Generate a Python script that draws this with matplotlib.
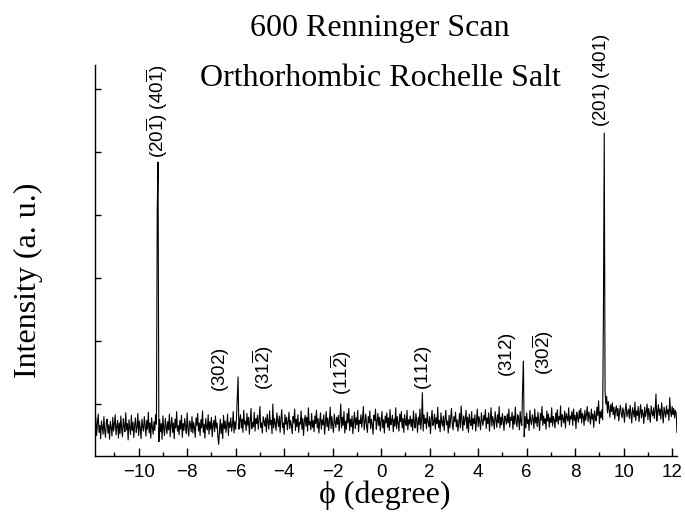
import numpy as np
import matplotlib
matplotlib.use("Agg")
import matplotlib.pyplot as plt
from matplotlib.ticker import MultipleLocator, FixedLocator, NullFormatter

# ---------------- data ----------------
phi_start = -11.80
points_per_degree = 30

intensity = [
    # -11.8
    0.60, 0.78, 0.50, 0.69, 0.84, 0.55, 0.66, 0.45, 0.73, 0.62,
    0.52, 0.80, 0.58, 0.47, 0.71, 0.76, 0.54, 0.67, 0.44, 0.72,
    0.63, 0.49, 0.79, 0.57, 0.68, 0.83, 0.51, 0.64, 0.74, 0.46,
    # -10.8
    0.70, 0.53, 0.81, 0.60, 0.48, 0.77, 0.65, 0.56, 0.86, 0.59,
    0.69, 0.43, 0.75, 0.62, 0.52, 0.82, 0.58, 0.71, 0.47, 0.66,
    0.78, 0.55, 0.63, 0.85, 0.50, 0.73, 0.61, 0.45, 0.76, 0.64,
    # -9.8
    0.57, 0.80, 0.66, 0.49, 0.74, 0.60, 0.87, 0.54, 0.70, 0.46,
    0.78, 0.63, 0.52, 0.72, 0.58, 0.83, 0.68, 4.10, 4.84, 0.40,
    0.75, 0.56, 0.69, 0.44, 0.81, 0.61, 0.50, 0.77, 0.65, 0.53,
    # -8.8
    0.72, 0.59, 0.84, 0.48, 0.67, 0.79, 0.55, 0.70, 0.45, 0.76,
    0.62, 0.88, 0.57, 0.66, 0.51, 0.74, 0.60, 0.82, 0.47, 0.69,
    0.58, 0.77, 0.64, 0.53, 0.86, 0.61, 0.49, 0.73, 0.68, 0.56,
    # -7.8
    0.80, 0.54, 0.71, 0.63, 0.47, 0.78, 0.66, 0.85, 0.57, 0.70,
    0.50, 0.75, 0.62, 0.89, 0.55, 0.68, 0.46, 0.77, 0.64, 0.59,
    0.83, 0.52, 0.72, 0.60, 0.79, 0.48, 0.67, 0.74, 0.56, 0.81,
    # -6.8
    0.62, 0.70, 0.49, 0.36, 0.58, 0.76, 0.53, 0.69, 0.45, 0.82,
    0.61, 0.73, 0.55, 0.67, 0.84, 0.50, 0.71, 0.63, 0.78, 0.57,
    0.66, 0.88, 0.54, 0.72, 0.60, 0.77, 1.10, 1.43, 0.60, 0.74,
    # -5.8
    0.83, 0.62, 0.76, 0.55, 0.90, 0.68, 0.73, 0.58, 0.85, 0.66,
    0.79, 0.52, 0.74, 0.93, 0.61, 0.71, 0.64, 0.87, 0.57, 0.77,
    0.69, 0.82, 0.60, 0.75, 0.96, 0.63, 0.70, 0.54, 0.80, 0.72,
    # -4.8
    0.65, 0.78, 0.56, 0.84, 0.71, 0.60, 0.89, 0.67, 0.74, 0.53,
    1.00, 0.62, 0.77, 0.69, 0.58, 0.86, 0.73, 0.64, 0.81, 0.55,
    0.76, 0.91, 0.63, 0.70, 0.52, 0.83, 0.68, 0.79, 0.59, 0.72,
    # -3.8
    0.87, 0.61, 0.74, 0.66, 0.53, 0.80, 0.70, 0.92, 0.58, 0.76,
    0.64, 0.83, 0.55, 0.71, 0.68, 0.89, 0.60, 0.77, 0.50, 0.73,
    0.82, 0.65, 0.79, 0.57, 0.94, 0.67, 0.72, 0.59, 0.85, 0.63,
    # -2.8
    0.74, 0.56, 0.81, 0.69, 0.90, 0.62, 0.77, 0.54, 0.72, 0.86,
    0.60, 0.75, 0.67, 0.83, 0.52, 0.70, 0.88, 0.64, 0.78, 0.58,
    0.73, 0.95, 0.61, 0.80, 0.66, 0.55, 0.84, 0.71, 0.63, 0.79,
    # -1.8
    0.68, 0.82, 0.57, 0.75, 1.00, 0.62, 0.79, 0.66, 0.88, 0.54,
    0.73, 0.60, 0.85, 0.70, 0.93, 0.58, 0.76, 0.64, 0.81, 0.53,
    0.72, 0.87, 0.61, 0.78, 0.67, 0.90, 0.56, 0.74, 0.69, 0.83,
    # -0.8
    0.63, 0.77, 0.96, 0.59, 0.72, 0.84, 0.65, 0.55, 0.80, 0.70,
    0.89, 0.61, 0.76, 0.68, 0.52, 0.82, 0.74, 0.92, 0.60, 0.71,
    0.85, 0.66, 0.79, 0.57, 0.73, 0.88, 0.62, 0.75, 0.54, 0.81,
    # 0.2
    0.70, 0.86, 0.63, 0.78, 0.58, 0.91, 0.67, 0.74, 0.82, 0.56,
    0.76, 0.65, 0.94, 0.61, 0.80, 0.69, 0.57, 0.84, 0.72, 0.88,
    0.62, 0.77, 0.55, 0.83, 0.71, 0.66, 0.90, 0.59, 0.75, 0.68,
    # 1.2
    0.81, 0.64, 0.76, 0.58, 0.89, 0.70, 0.62, 0.85, 0.73, 0.55,
    0.79, 0.67, 0.92, 0.60, 0.74, 1.18, 0.57, 0.83, 0.69, 0.77,
    0.61, 0.87, 0.72, 0.64, 0.80, 0.53, 0.75, 0.90, 0.66, 0.71,
    # 2.2
    0.84, 0.60, 0.78, 0.69, 0.95, 0.63, 0.74, 0.56, 0.86, 0.71,
    0.65, 0.81, 0.58, 0.76, 0.90, 0.67, 0.73, 0.54, 0.82, 0.62,
    0.77, 0.93, 0.68, 0.59, 0.80, 0.72, 0.87, 0.64, 0.75, 0.57,
    # 3.2
    0.70, 0.85, 0.62, 0.97, 0.74, 0.58, 0.81, 0.67, 0.76, 0.90,
    0.61, 0.79, 0.55, 0.84, 0.72, 0.66, 0.88, 0.60, 0.77, 0.69,
    0.83, 0.57, 0.75, 0.92, 0.64, 0.80, 0.71, 0.59, 0.86, 0.73,
    # 4.2
    0.66, 0.82, 0.74, 0.91, 0.61, 0.78, 0.69, 0.86, 0.57, 0.76,
    0.94, 0.65, 0.80, 0.72, 0.60, 0.88, 0.75, 0.63, 0.83, 0.70,
    0.96, 0.62, 0.79, 0.67, 0.85, 0.73, 0.58, 0.81, 0.77, 0.68,
    # 5.2
    0.84, 0.70, 0.92, 0.63, 0.79, 0.74, 0.87, 0.60, 0.81, 0.68,
    0.95, 0.72, 0.64, 0.83, 0.77, 0.59, 0.88, 0.71, 0.66, 1.28,
    1.68, 0.48, 0.80, 0.62, 0.86, 0.69, 0.75, 0.58, 0.90, 0.73,
    # 6.2
    0.67, 0.83, 0.76, 0.61, 0.92, 0.70, 0.79, 0.64, 0.87, 0.72,
    0.58, 0.85, 0.74, 0.96, 0.66, 0.81, 0.69, 0.77, 0.60, 0.89,
    0.73, 0.84, 0.63, 0.78, 0.71, 0.94, 0.65, 0.80, 0.75, 0.62,
    # 7.2
    0.86, 0.72, 0.91, 0.68, 0.80, 0.75, 0.97, 0.64, 0.83, 0.77,
    0.70, 0.89, 0.62, 0.85, 0.79, 0.73, 0.94, 0.67, 0.81, 0.76,
    0.88, 0.66, 0.92, 0.74, 0.82, 0.61, 0.87, 0.78, 0.71, 0.90,
    # 8.2
    0.77, 0.93, 0.70, 0.85, 0.81, 0.66, 0.90, 0.74, 0.83, 0.96,
    0.72, 0.87, 0.79, 0.68, 0.92, 0.76, 0.84, 0.63, 0.89, 0.80,
    0.73, 0.95, 0.82, 1.05, 0.69, 0.88, 0.78, 0.91, 0.75, 2.50,
    # 9.2
    5.30, 1.20, 1.00, 1.12, 0.86, 1.04, 0.92, 0.79, 0.99, 0.88,
    1.02, 0.83, 0.95, 0.76, 0.90, 0.97, 0.81, 0.93, 0.73, 0.89,
    0.98, 0.84, 0.78, 0.94, 0.87, 0.71, 0.91, 1.01, 0.80, 0.86,
    # 10.2
    0.92, 0.77, 0.98, 0.83, 0.70, 0.94, 0.88, 0.79, 1.03, 0.74,
    0.89, 0.82, 0.96, 0.72, 0.87, 0.99, 0.78, 0.91, 0.84, 0.69,
    0.95, 0.80, 0.88, 1.00, 0.75, 0.93, 0.83, 0.71, 0.97, 0.86,
    # 11.2
    0.81, 0.94, 0.77, 0.90, 1.16, 0.73, 0.88, 0.99, 0.82, 0.92,
    0.76, 1.02, 0.85, 0.70, 0.95, 0.87, 0.79, 0.97, 0.84, 0.91,
    0.74, 1.10, 0.89, 0.80, 0.96, 0.83, 0.93, 0.78, 0.90, 0.85,
    # 12.2
    0.55,
]

peak_labels = [r"$\mathrm{(20\overline{1})\ (40\overline{1})}$", r"$\mathrm{(201)\ (401)}$",
               r"$\mathrm{(302)}$", r"$\mathrm{(31\overline{2})}$", r"$\mathrm{(11\overline{2})}$",
               r"$\mathrm{(112)}$", r"$\mathrm{(312)}$", r"$\mathrm{(30\overline{2})}$"]
label_phi = [-9.23, 9.09, -6.63, -4.86, -1.66, 1.73, 5.23, 6.67]
label_base = [4.90, 5.40, 1.19, 1.22, 1.14, 1.22, 1.43, 1.46]

x_ticks = [-10, -8, -6, -4, -2, 0, 2, 4, 6, 8, 10, 12]
y_ticks = [1, 2, 3, 4, 5, 6]

title_lines = ["600 Renninger Scan", "Orthorhombic Rochelle Salt"]
x_label = "\u03d5 (degree)"
y_label = "Intensity (a. u.)"

# ---------------- style ----------------
plt.rcParams["mathtext.fontset"] = "custom"
plt.rcParams["mathtext.rm"] = "Liberation Sans"
plt.rcParams["mathtext.it"] = "Liberation Sans:italic"
plt.rcParams["mathtext.bf"] = "Liberation Sans:bold"
plt.rcParams["font.family"] = ["Liberation Sans", "DejaVu Sans"]

W, H = 685, 521
fig = plt.figure(figsize=(W / 100, H / 100), dpi=100)
ax = fig.add_axes([95 / W, (H - 456) / H, 582 / W, 391 / H])

y = np.array(intensity)
phi = phi_start + np.arange(len(y)) / points_per_degree
ax.plot(phi, y, color="black", lw=0.8)

ax.set_xlim(-11.8, 12.2)
ax.set_ylim(0.175, 6.38)

for s in ("top", "right"):
    ax.spines[s].set_visible(False)
for s in ("left", "bottom"):
    ax.spines[s].set_linewidth(1.0)

ax.xaxis.set_major_locator(FixedLocator(x_ticks))
ax.xaxis.set_minor_locator(MultipleLocator(1))
ax.yaxis.set_major_locator(FixedLocator(y_ticks))
ax.yaxis.set_major_formatter(NullFormatter())
ax.tick_params(axis="x", which="major", direction="in", length=5.5, width=1.0,
               labelsize=13.5, pad=6)
ax.tick_params(axis="x", which="minor", direction="in", length=3, width=1.0)
ax.tick_params(axis="y", which="major", direction="in", length=4.5, width=1.0)

for txt, xp, yp in zip(peak_labels, label_phi, label_base):
    ax.text(xp, yp, txt, rotation=90, ha="center", va="bottom", fontsize=13.5)

serif = ["Liberation Serif", "DejaVu Serif"]
fig.text(380 / W, 1 - 36 / H, title_lines[0], ha="center", va="baseline",
         fontsize=23, family=serif)
fig.text(380 / W, 1 - 86 / H, title_lines[1], ha="center", va="baseline",
         fontsize=23, family=serif)
fig.text(385 / W, 1 - 495 / H, x_label, ha="center", va="center",
         fontsize=23, family=serif)
fig.text(28 / W, 1 - 280 / H, y_label, ha="center", va="center",
         rotation=90, fontsize=23, family=serif)

fig.savefig("out.png", dpi=100)
